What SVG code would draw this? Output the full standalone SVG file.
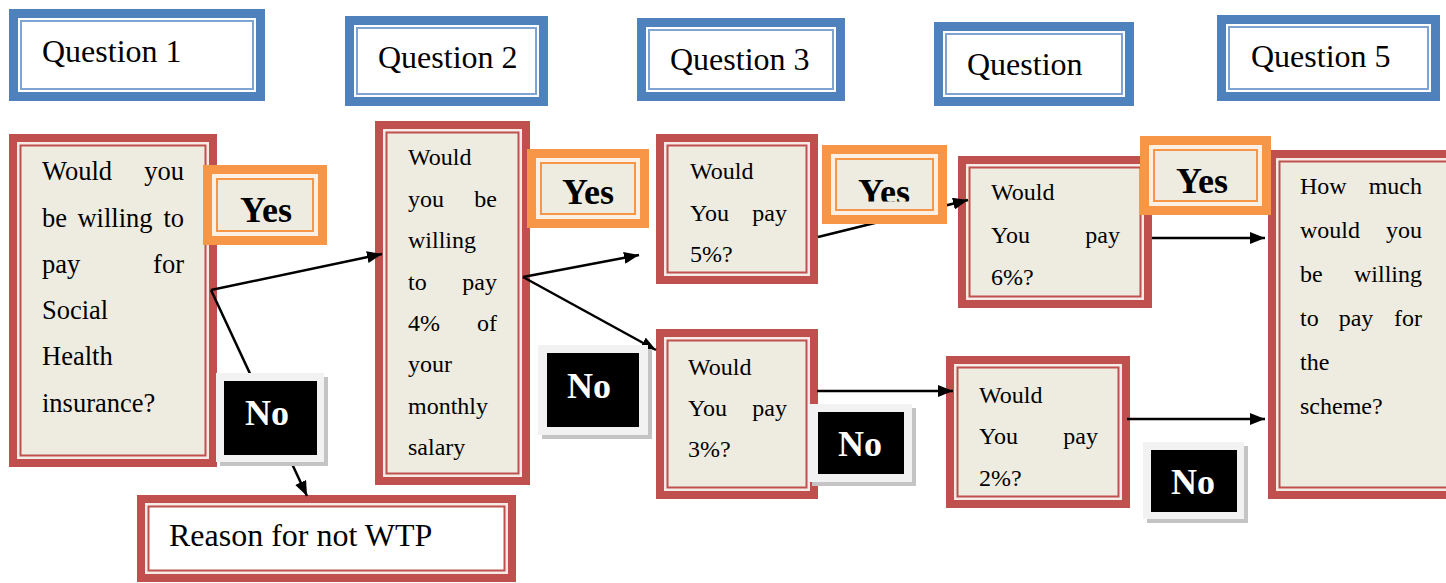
<svg xmlns="http://www.w3.org/2000/svg" width="1446" height="583" viewBox="0 0 1446 583">
<style>
.qo{fill:#fff;stroke:#4F81BD;stroke-width:9}
.qi{fill:none;stroke:#7FA3D3;stroke-width:2}
.ro{fill:#F5EAE6;stroke:#C0504D;stroke-width:8}
.ri{fill:#EEECE1;stroke:#C0504D;stroke-width:2}
.riw{fill:#fff;stroke:#C0504D;stroke-width:2}
.yo{fill:#FCEFE3;stroke:#F79646;stroke-width:9}
.yi{fill:#EEECE1;stroke:#F79646;stroke-width:2}
.nf{fill:#F2F2F2}
.ns{fill:#C4C4C4}
.nb{fill:#000}
text{font-family:"Liberation Serif","Times New Roman",serif;fill:#000}
.qt{font-size:32px}
.b1{font-size:26.5px}
.bt{font-size:24px}
.e{text-anchor:end}
.m{text-anchor:middle}
.yes{font-weight:bold;font-size:36px;text-anchor:middle}
.no{font-weight:bold;font-size:36px;fill:#fff;text-anchor:middle}
.conn line{stroke:#000;stroke-width:2.5;marker-end:url(#ah)}
</style>
<defs>
<marker id="ah" markerUnits="userSpaceOnUse" markerWidth="15" markerHeight="12" refX="15" refY="6" orient="auto">
<path d="M0,0 L15,6 L0,12 z" fill="#000"/>
</marker>
<clipPath id="cy3"><rect x="836" y="159" width="97" height="42.5"/></clipPath>
</defs>
<rect width="1446" height="583" fill="#fff"/>

<g id="q1"><rect class="qo" x="13.5" y="13.5" width="247" height="83"/><rect class="qi" x="21" y="21" width="232" height="68"/><text class="qt" x="42" y="62">Question 1</text></g>
<g id="q2"><rect class="qo" x="349.5" y="20.5" width="194" height="81"/><rect class="qi" x="357" y="28" width="179" height="66"/><text class="qt" x="378" y="68">Question 2</text></g>
<g id="q3"><rect class="qo" x="641.5" y="22.5" width="199" height="74"/><rect class="qi" x="649" y="30" width="184" height="59"/><text class="qt" x="670" y="70">Question 3</text></g>
<g id="q4"><rect class="qo" x="938.5" y="26.5" width="191" height="75"/><rect class="qi" x="946" y="34" width="176" height="60"/><text class="qt" x="967" y="75">Question</text></g>
<g id="q5"><rect class="qo" x="1221.5" y="19.5" width="214" height="77"/><rect class="qi" x="1229" y="27" width="199" height="62"/><text class="qt" x="1251" y="67">Question 5</text></g>

<g id="b1"><rect class="ro" x="13" y="138" width="200" height="325"/><rect class="ri" x="20.5" y="145.5" width="185" height="310"/>
<text class="b1" x="42" y="180">Would</text><text class="b1 e" x="184" y="180">you</text>
<text class="b1" x="42" y="226.5">be</text><text class="b1 m" x="115" y="226.5">willing</text><text class="b1 e" x="184" y="226.5">to</text>
<text class="b1" x="42" y="272.5">pay</text><text class="b1 e" x="184" y="272.5">for</text>
<text class="b1" x="42" y="319">Social</text>
<text class="b1" x="42" y="365">Health</text>
<text class="b1" x="42" y="411.5">insurance?</text></g>

<g id="b2"><rect class="ro" x="379" y="125" width="147" height="356"/><rect class="ri" x="386.5" y="132.5" width="132" height="341"/>
<text class="bt" x="408" y="165">Would</text>
<text class="bt" x="408" y="206.5">you</text><text class="bt e" x="497" y="206.5">be</text>
<text class="bt" x="408" y="248">willing</text>
<text class="bt" x="408" y="289.5">to</text><text class="bt e" x="497" y="289.5">pay</text>
<text class="bt" x="408" y="331">4%</text><text class="bt e" x="497" y="331">of</text>
<text class="bt" x="408" y="372">your</text>
<text class="bt" x="408" y="413.5">monthly</text>
<text class="bt" x="408" y="455">salary</text></g>

<g id="b3"><rect class="ro" x="660" y="138" width="154" height="142"/><rect class="ri" x="667.5" y="145.5" width="139" height="127"/>
<text class="bt" x="690" y="179">Would</text>
<text class="bt" x="690" y="221">You</text><text class="bt e" x="787" y="221">pay</text>
<text class="bt" x="690" y="262">5%?</text></g>

<g id="b4"><rect class="ro" x="962" y="160" width="186" height="144"/><rect class="ri" x="969.5" y="167.5" width="171" height="129"/>
<text class="bt" x="991" y="200">Would</text>
<text class="bt" x="991" y="243">You</text><text class="bt e" x="1120" y="243">pay</text>
<text class="bt" x="991" y="285">6%?</text></g>

<g id="b5"><rect class="ro" x="1272" y="154" width="192" height="341"/><rect class="ri" x="1279.5" y="161.5" width="177" height="326"/>
<text class="bt" x="1300" y="194">How</text><text class="bt e" x="1422" y="194">much</text>
<text class="bt" x="1300" y="238">would</text><text class="bt e" x="1422" y="238">you</text>
<text class="bt" x="1300" y="282">be</text><text class="bt e" x="1422" y="282">willing</text>
<text class="bt" x="1300" y="326">to</text><text class="bt m" x="1356" y="326">pay</text><text class="bt e" x="1422" y="326">for</text>
<text class="bt" x="1300" y="370">the</text>
<text class="bt" x="1300" y="414">scheme?</text></g>

<g id="b6"><rect class="ro" x="660" y="333" width="154" height="162"/><rect class="ri" x="667.5" y="340.5" width="139" height="147"/>
<text class="bt" x="688" y="375">Would</text>
<text class="bt" x="688" y="416">You</text><text class="bt e" x="787" y="416">pay</text>
<text class="bt" x="688" y="457">3%?</text></g>

<g id="b7"><rect class="ro" x="950" y="360" width="176" height="144"/><rect class="ri" x="957.5" y="367.5" width="161" height="129"/>
<text class="bt" x="979" y="403">Would</text>
<text class="bt" x="979" y="444">You</text><text class="bt e" x="1098" y="444">pay</text>
<text class="bt" x="979" y="486">2%?</text></g>

<g id="b8"><rect class="ro" x="141" y="499" width="371" height="79"/><rect class="riw" x="148.5" y="506.5" width="356" height="64"/>
<text class="qt" x="169" y="546">Reason for not WTP</text></g>

<g id="connectors" class="conn">
<line x1="211" y1="290" x2="307" y2="496"/>
<line x1="211" y1="290" x2="382" y2="254"/>
<line x1="523" y1="277" x2="639" y2="255"/>
<line x1="523" y1="277" x2="656" y2="350"/>
<line x1="818" y1="237" x2="968" y2="200"/>
<line x1="1152" y1="238" x2="1265" y2="238"/>
<line x1="817" y1="391" x2="953" y2="391"/>
<line x1="1127" y1="419" x2="1265" y2="419"/>
</g>

<g id="y1"><rect class="yo" x="207.5" y="169.5" width="115" height="71"/><rect class="yi" x="217" y="179" width="96" height="52"/><text class="yes" x="266" y="222">Yes</text></g>
<g id="y2"><rect class="yo" x="531.5" y="153.5" width="113" height="70"/><rect class="yi" x="541" y="163" width="94" height="51"/><text class="yes" x="588" y="204">Yes</text></g>
<g id="y3"><rect class="yo" x="826.5" y="149.5" width="116" height="70"/><rect class="yi" x="836" y="159" width="97" height="51"/><text class="yes" x="884" y="203.5" clip-path="url(#cy3)">Yes</text></g>
<g id="y4"><rect class="yo" x="1144.5" y="140.5" width="122" height="70"/><rect class="yi" x="1154" y="150" width="103" height="51"/><text class="yes" x="1202" y="193">Yes</text></g>

<g id="n1"><rect class="ns" x="220" y="377" width="108" height="89"/><rect class="nf" x="216" y="373" width="108" height="89"/><rect class="nb" x="224" y="381" width="93" height="74"/><text class="no" x="267" y="425">No</text></g>
<g id="n2"><rect class="ns" x="542" y="349" width="110" height="90"/><rect class="nf" x="538" y="345" width="110" height="90"/><rect class="nb" x="547" y="353" width="92" height="74"/><text class="no" x="589" y="398">No</text></g>
<g id="n3"><rect class="ns" x="812" y="408" width="104" height="78"/><rect class="nf" x="808" y="404" width="104" height="78"/><rect class="nb" x="818" y="412" width="86" height="62"/><text class="no" x="860" y="456">No</text></g>
<g id="n4"><rect class="ns" x="1147" y="446" width="101" height="77"/><rect class="nf" x="1143" y="442" width="101" height="77"/><rect class="nb" x="1151" y="450" width="86" height="62"/><text class="no" x="1193" y="494">No</text></g>
</svg>
